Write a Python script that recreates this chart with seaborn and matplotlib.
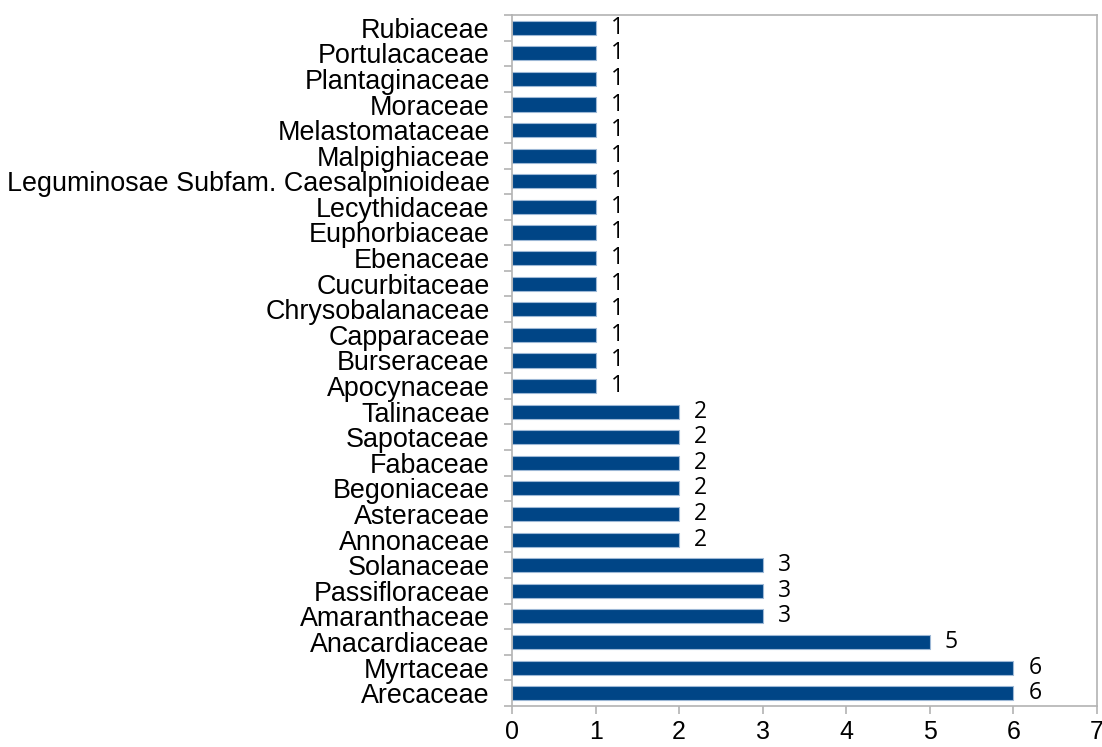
import matplotlib
matplotlib.use("Agg")
import matplotlib.pyplot as plt
import seaborn as sns
import pandas as pd
import numpy as np

families = [
    "Rubiaceae", "Portulacaceae", "Plantaginaceae", "Moraceae", "Melastomataceae",
    "Malpighiaceae", "Leguminosae Subfam. Caesalpinioideae", "Lecythidaceae",
    "Euphorbiaceae", "Ebenaceae", "Cucurbitaceae", "Chrysobalanaceae", "Capparaceae",
    "Burseraceae", "Apocynaceae", "Talinaceae", "Sapotaceae", "Fabaceae",
    "Begoniaceae", "Asteraceae", "Annonaceae", "Solanaceae", "Passifloraceae",
    "Amaranthaceae", "Anacardiaceae", "Myrtaceae", "Arecaceae",
]
counts = [1, 1, 1, 1, 1, 1, 1, 1, 1, 1, 1, 1, 1, 1, 1,
          2, 2, 2, 2, 2, 2, 3, 3, 3, 5, 6, 6]
x_ticks = [0, 1, 2, 3, 4, 5, 6, 7]

df = pd.DataFrame({"family": families, "count": counts})

sns.set_style("white")
plt.rcParams["font.family"] = ["Liberation Sans", "DejaVu Sans"]

fig = plt.figure(figsize=(11.02, 7.47), dpi=100)
ax = fig.add_axes([0.4646, 0.0549, 0.9955 - 0.4646, 0.98 - 0.0549])

sns.barplot(data=df, x="count", y="family", orient="h", color="#004586",
            saturation=1, width=0.55, edgecolor="#9db8d6", linewidth=0.8, ax=ax)

ax.set_xlim(0, 7)
ax.set_ylim(len(families) - 0.5, -0.5)
ax.set_xticks(x_ticks)
ax.set_xticklabels([str(t) for t in x_ticks])
ax.set_xlabel("")
ax.set_ylabel("")

grey = "#b3b3b3"
for s in ax.spines.values():
    s.set_color(grey)
    s.set_linewidth(1.2)

ax.tick_params(axis="x", bottom=True, direction="out", length=6, width=1.2,
               color=grey, labelsize=18, pad=4, labelcolor="black")
ax.set_yticks(np.arange(len(families)))
ax.set_yticklabels(families)
ax.tick_params(axis="y", which="major", left=True, length=0, labelsize=19.4,
               pad=16, labelcolor="black")
ax.set_yticks(np.arange(len(families) + 1) - 0.5, minor=True)
ax.tick_params(axis="y", which="minor", left=True, direction="out", length=6,
               width=1.2, color=grey)

for i, v in enumerate(counts):
    ax.text(v + 0.18, i, str(v), va="center", ha="left", fontsize=16.5,
            family=["Open Sans", "DejaVu Sans"], color="black")

fig.savefig("out.png", dpi=100)
